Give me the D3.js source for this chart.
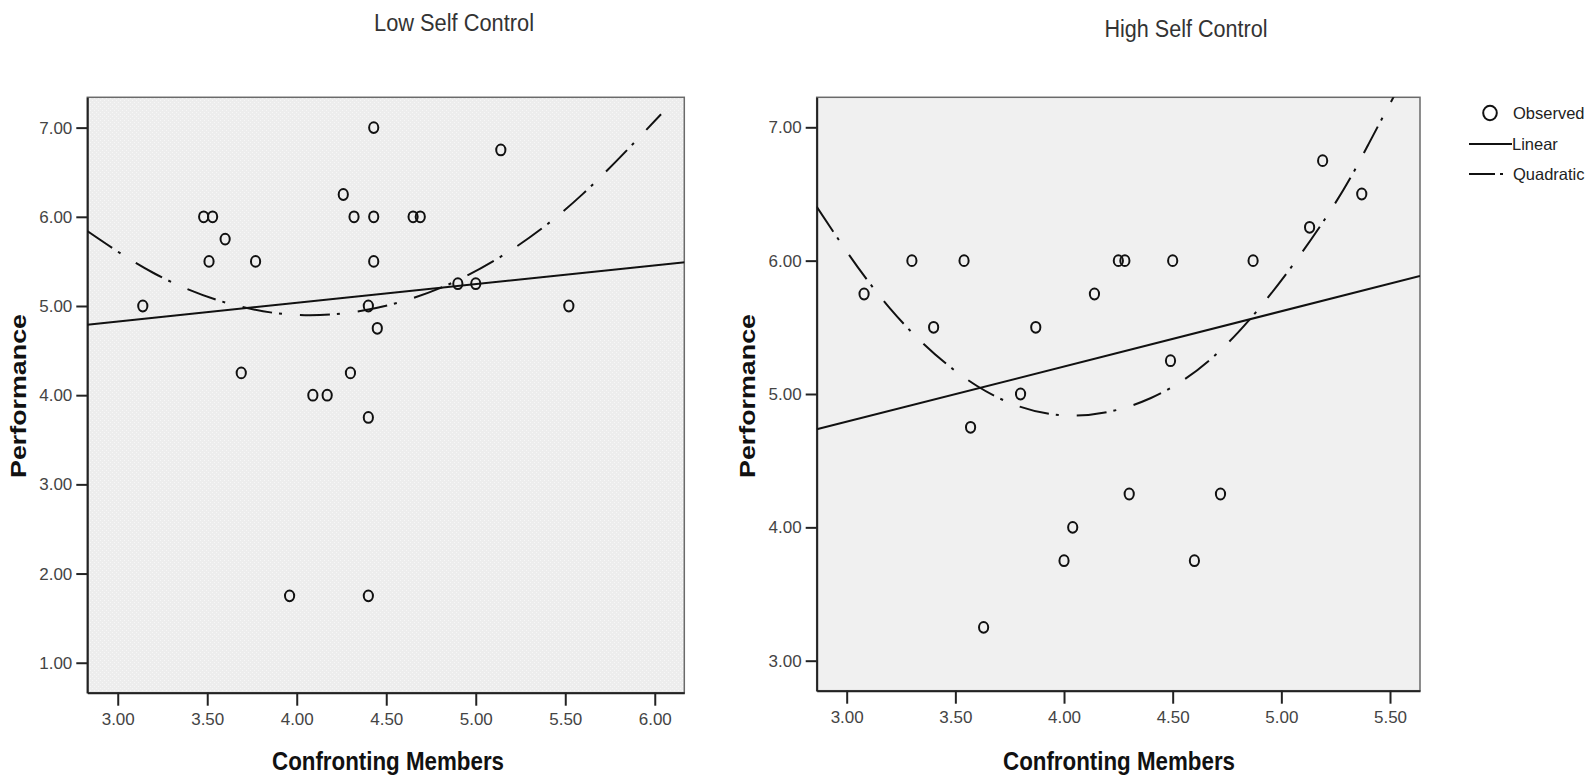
<!DOCTYPE html>
<html>
<head>
<meta charset="utf-8">
<style>
  body { margin: 0; background: #fff; }
  svg text { font-family: "Liberation Sans", Arial, sans-serif; }
</style>
</head>
<body>
<svg width="1587" height="779"></svg>
<script src="https://cdn.jsdelivr.net/npm/d3@7/dist/d3.min.js"></script>
<script>
// values
var lowX  = [3.14, 3.48, 3.53, 3.51, 3.60, 3.77, 3.69, 4.26, 4.32, 4.43, 4.43, 4.43, 4.40, 4.45, 4.30,
             4.09, 4.17, 4.40, 3.96, 4.40, 4.65, 4.69, 5.14, 4.90, 5.00, 5.52];
var lowY  = [5.00, 6.00, 6.00, 5.50, 5.75, 5.50, 4.25, 6.25, 6.00, 6.00, 7.00, 5.50, 5.00, 4.75, 4.25,
             4.00, 4.00, 3.75, 1.75, 1.75, 6.00, 6.00, 6.75, 5.25, 5.25, 5.00];
var highX = [3.08, 3.30, 3.54, 3.40, 3.87, 4.14, 4.25, 4.28, 4.50, 3.80, 3.57, 3.63, 4.00, 4.04, 4.30,
             4.49, 4.87, 5.19, 5.37, 5.13, 4.72, 4.60];
var highY = [5.75, 6.00, 6.00, 5.50, 5.50, 5.75, 6.00, 6.00, 6.00, 5.00, 4.75, 3.25, 3.75, 4.00, 4.25,
             5.25, 6.00, 6.75, 6.50, 6.25, 4.25, 3.75];

// fit lines as traced on the picture [x, y]
var lowLinear  = [[2.83, 4.79], [6.17, 5.49]];
var lowQuad    = [[2.83, 5.84], [3.2, 5.37], [3.6, 5.04], [4.0, 4.90], [4.4, 4.96], [4.8, 5.20],
                  [5.2, 5.63], [5.6, 6.26], [6.035, 7.15]];
var highLinear = [[2.862, 4.735], [5.638, 5.885]];
var highQuad   = [[2.862, 6.405], [3.2, 5.64], [3.6, 5.06], [4.0, 4.84], [4.4, 4.97], [4.8, 5.46],
                  [5.2, 6.31], [5.4, 6.87], [5.55, 7.33]];

var xTicksLow  = [3, 3.5, 4, 4.5, 5, 5.5, 6];
var yTicksLow  = [1, 2, 3, 4, 5, 6, 7];
var xTicksHigh = [3, 3.5, 4, 4.5, 5, 5.5];
var yTicksHigh = [3, 4, 5, 6, 7];

var legendItems = ["Observed", "Linear", "Quadratic"];

var svg = d3.select("svg");
var defs = svg.append("defs");

var pat = defs.append("pattern").attr("id", "stipple")
  .attr("width", 4).attr("height", 4).attr("patternUnits", "userSpaceOnUse");
pat.append("rect").attr("width", 4).attr("height", 4).attr("fill", "#ededed");
pat.append("rect").attr("x", 0).attr("y", 0).attr("width", 1).attr("height", 1).attr("fill", "#f7f7f7");
pat.append("rect").attr("x", 2).attr("y", 2).attr("width", 1).attr("height", 1).attr("fill", "#f7f7f7");

var fmt = d3.format(".2f");

function panel(o) {
  var x = d3.scaleLinear().domain(o.xDom).range([o.left, o.right]);
  var y = d3.scaleLinear().domain(o.yDom).range([o.bottom, o.top]);
  var g = svg.append("g");

  defs.append("clipPath").attr("id", o.id + "-clip")
    .append("rect").attr("x", o.left).attr("y", o.top)
    .attr("width", o.right - o.left).attr("height", o.bottom - o.top);

  g.append("rect")
    .attr("x", o.left).attr("y", o.top)
    .attr("width", o.right - o.left).attr("height", o.bottom - o.top)
    .attr("fill", o.fill).attr("stroke", "#6a6a6a").attr("stroke-width", 1.5);

  var ax = g.append("g").attr("transform", "translate(0," + o.bottom + ")")
    .call(d3.axisBottom(x).tickValues(o.xTicks).tickFormat(fmt).tickSize(13).tickSizeOuter(0).tickPadding(7));
  var ay = g.append("g").attr("transform", "translate(" + o.left + ",0)")
    .call(d3.axisLeft(y).tickValues(o.yTicks).tickFormat(fmt).tickSize(11).tickSizeOuter(0).tickPadding(4));
  [ax, ay].forEach(function(a) {
    a.select(".domain").attr("stroke", "#222").attr("stroke-width", 2);
    a.selectAll(".tick line").attr("stroke", "#222").attr("stroke-width", 2);
    a.selectAll(".tick text").attr("fill", "#444").style("font-size", "17px");
  });

  var plot = g.append("g").attr("clip-path", "url(#" + o.id + "-clip)");
  var line = d3.line().x(function(d) { return x(d[0]); }).y(function(d) { return y(d[1]); });

  plot.append("path").datum(o.lin).attr("d", line)
    .attr("fill", "none").attr("stroke", "#111").attr("stroke-width", 2);
  plot.append("path").datum(o.quad).attr("d", line.curve(d3.curveNatural))
    .attr("fill", "none").attr("stroke", "#111").attr("stroke-width", 2)
    .attr("stroke-dasharray", "30,7,3,18");

  plot.selectAll("ellipse").data(o.xs).enter().append("ellipse")
    .attr("cx", function(d) { return x(d); })
    .attr("cy", function(d, i) { return y(o.ys[i]); })
    .attr("rx", 4.6).attr("ry", 5.4)
    .attr("fill", "none").attr("stroke", "#111").attr("stroke-width", 2);

  svg.append("text").attr("x", o.titleX).attr("y", o.titleY)
    .attr("text-anchor", "middle").attr("fill", "#333")
    .attr("textLength", o.titleW).attr("lengthAdjust", "spacingAndGlyphs")
    .style("font-size", "23px").text(o.title);

  svg.append("text").attr("x", (o.xLabelX)).attr("y", 770)
    .attr("text-anchor", "middle").attr("fill", "#111").attr("font-weight", "bold")
    .attr("textLength", 232).attr("lengthAdjust", "spacingAndGlyphs")
    .style("font-size", "25px").text("Confronting Members");

  svg.append("text")
    .attr("transform", "translate(" + o.yLabelX + ",396) rotate(-90)")
    .attr("text-anchor", "middle").attr("fill", "#111").attr("font-weight", "bold")
    .attr("textLength", 164).attr("lengthAdjust", "spacingAndGlyphs")
    .style("font-size", "22px").text("Performance");
}

panel({
  id: "low", left: 87.3, right: 684.3, top: 97.3, bottom: 692.7,
  xDom: [2.83, 6.165], yDom: [0.664, 7.34], fill: "url(#stipple)",
  xTicks: xTicksLow, yTicks: yTicksLow, xs: lowX, ys: lowY,
  lin: lowLinear, quad: lowQuad,
  title: "Low Self Control", titleX: 454, titleY: 31, titleW: 160,
  xLabelX: 388, yLabelX: 26
});

panel({
  id: "high", left: 816.7, right: 1420, top: 97.3, bottom: 690.7,
  xDom: [2.862, 5.638], yDom: [2.775, 7.225], fill: "#f0f0f0",
  xTicks: xTicksHigh, yTicks: yTicksHigh, xs: highX, ys: highY,
  lin: highLinear, quad: highQuad,
  title: "High Self Control", titleX: 1186, titleY: 37, titleW: 163,
  xLabelX: 1119, yLabelX: 755
});

// legend
var lg = svg.append("g");
var rows = [113, 144, 174];
lg.append("ellipse").attr("cx", 1490).attr("cy", rows[0]).attr("rx", 6.8).attr("ry", 7.2)
  .attr("fill", "none").attr("stroke", "#111").attr("stroke-width", 2);
lg.append("line").attr("x1", 1469).attr("x2", 1512).attr("y1", rows[1]).attr("y2", rows[1])
  .attr("stroke", "#111").attr("stroke-width", 2);
lg.append("line").attr("x1", 1469).attr("x2", 1504).attr("y1", rows[2]).attr("y2", rows[2])
  .attr("stroke", "#111").attr("stroke-width", 2).attr("stroke-dasharray", "26,5,3,30");
lg.selectAll("text").data(legendItems).enter().append("text")
  .attr("x", function(d, i) { return i === 1 ? 1512 : 1513; })
  .attr("y", function(d, i) { return rows[i] + 6; })
  .attr("fill", "#222").style("font-size", "16.5px")
  .text(function(d) { return d; });
</script>
</body>
</html>
